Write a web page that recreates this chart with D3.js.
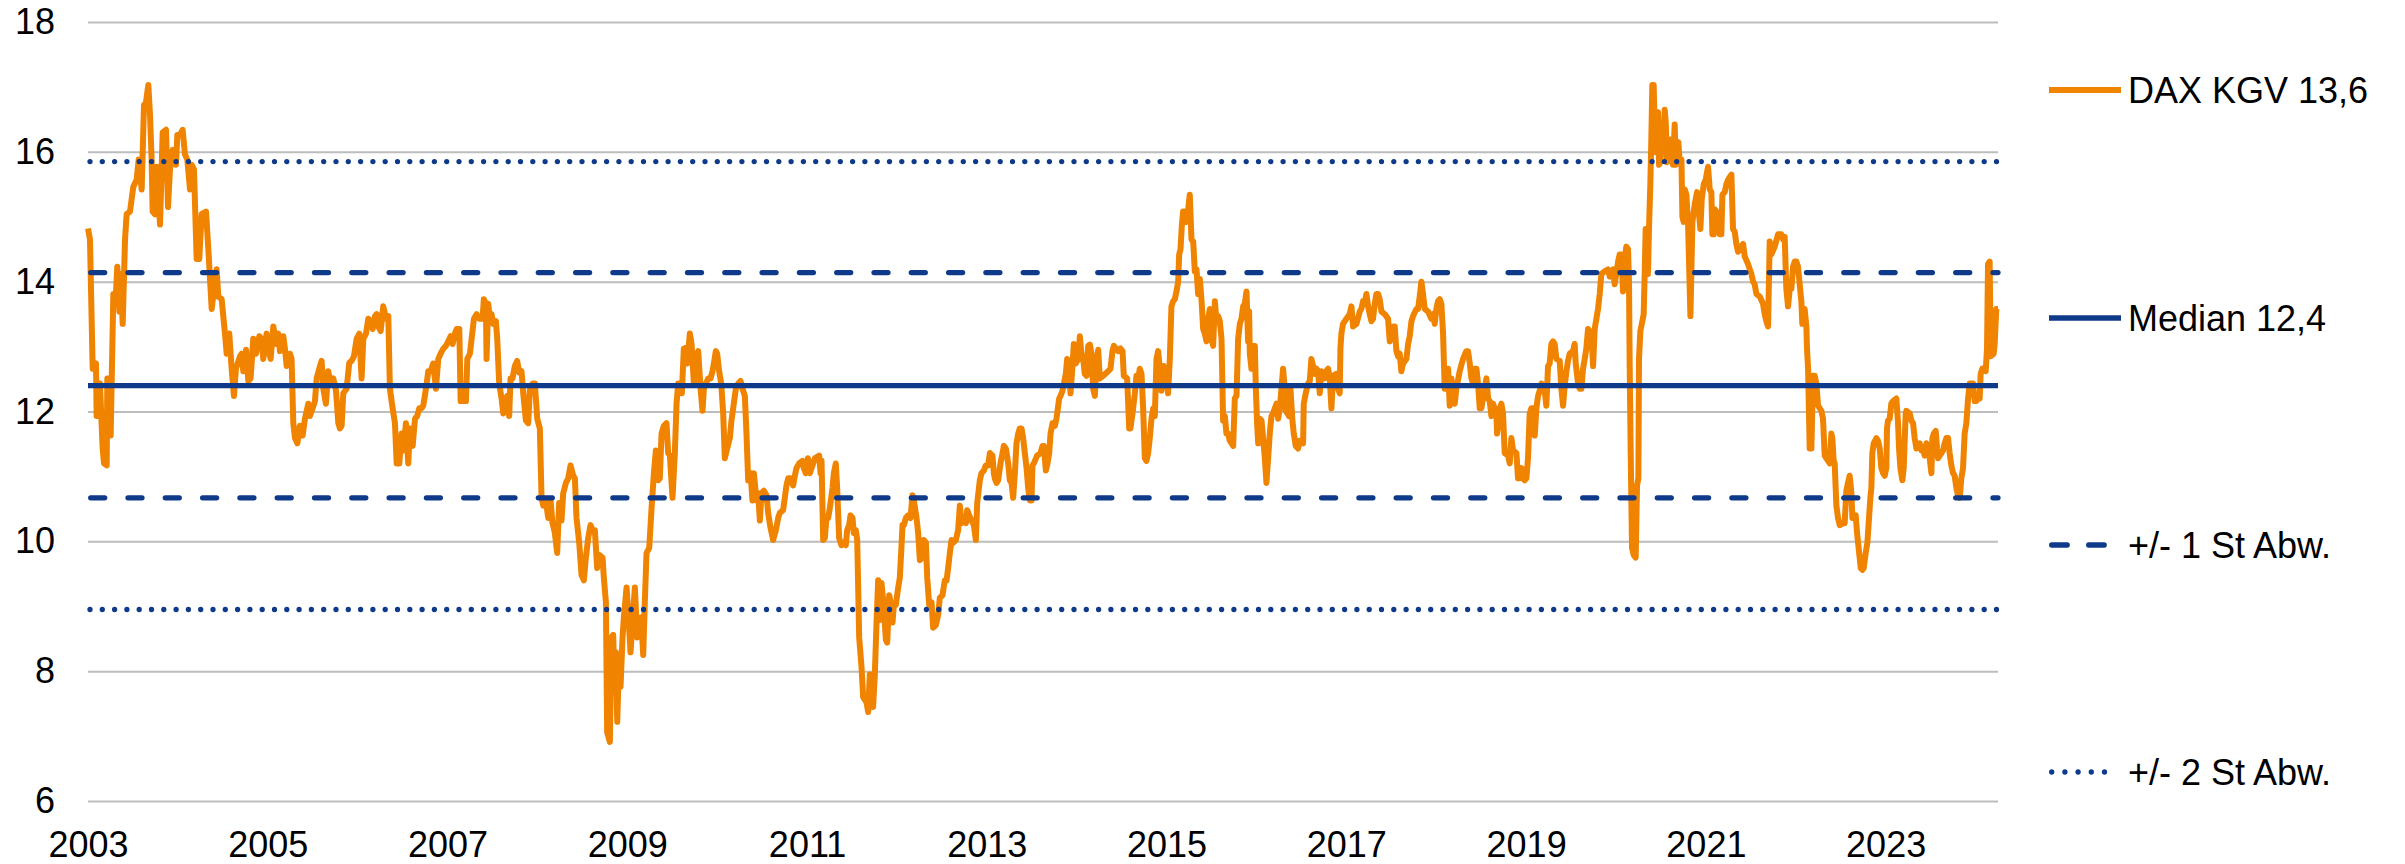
<!DOCTYPE html>
<html>
<head>
<meta charset="utf-8">
<script src="https://cdn.jsdelivr.net/npm/d3@7"></script>
<style>
  html, body { margin: 0; padding: 0; background: #fff; }
  svg { display: block; }
  text { font-family: "Liberation Sans", Arial, sans-serif; }
</style>
</head>
<body>
<svg id="chart" width="2405" height="864"></svg>
<script>
// ---------------- DATA ----------------
const yTicks = [6, 8, 10, 12, 14, 16, 18];
const xTicks = [2003, 2005, 2007, 2009, 2011, 2013, 2015, 2017, 2019, 2021, 2023];
const median = 12.4;
const sd1Levels = [14.14, 10.67];
const sd2Levels = [15.85, 8.95];
const legendLabels = ["DAX KGV 13,6", "Median 12,4", "+/- 1 St Abw.", "+/- 2 St Abw."];

// DAX KGV (P/E), [decimal year, value]
const daxKgv = [
[2003.000,14.82],[2003.022,14.65],[2003.052,12.66],[2003.089,12.74],[2003.096,11.93],[2003.115,11.93],[2003.133,12.43],[2003.163,11.43],[2003.178,11.20],[2003.208,11.17],
[2003.215,12.51],[2003.245,12.51],[2003.252,11.63],[2003.282,13.81],[2003.311,13.81],[2003.326,14.23],[2003.349,13.54],[2003.363,14.12],[2003.386,13.35],[2003.412,14.65],
[2003.430,15.04],[2003.467,15.08],[2003.504,15.46],[2003.541,15.57],[2003.564,15.88],[2003.597,15.42],[2003.623,16.72],[2003.645,16.76],[2003.671,17.03],[2003.690,16.57],
[2003.708,15.88],[2003.719,15.08],[2003.745,15.04],[2003.764,15.77],[2003.801,14.88],[2003.831,16.30],[2003.868,16.34],[2003.890,15.15],[2003.912,15.73],[2003.942,16.03],
[2003.979,15.80],[2003.994,16.26],[2004.023,16.26],[2004.053,16.34],[2004.079,15.96],[2004.105,15.88],[2004.135,15.42],[2004.153,15.80],[2004.179,15.73],[2004.209,14.35],
[2004.238,14.35],[2004.264,15.04],[2004.313,15.08],[2004.339,14.50],[2004.376,13.58],[2004.402,13.89],[2004.431,14.19],[2004.450,13.77],[2004.487,13.73],[2004.524,13.20],
[2004.543,12.89],[2004.572,13.20],[2004.598,12.66],[2004.624,12.24],[2004.646,12.66],[2004.691,12.85],[2004.709,12.89],[2004.728,12.62],[2004.758,12.95],[2004.784,12.47],
[2004.809,12.51],[2004.839,13.12],[2004.869,12.89],[2004.906,13.16],[2004.932,13.12],[2004.950,12.81],[2004.987,13.20],[2005.006,12.97],[2005.032,12.81],[2005.062,13.31],
[2005.091,13.04],[2005.117,13.20],[2005.136,12.93],[2005.173,13.16],[2005.191,12.97],[2005.210,12.70],[2005.247,12.89],[2005.265,12.81],[2005.284,11.82],[2005.303,11.59],
[2005.329,11.51],[2005.358,11.78],[2005.388,11.63],[2005.414,11.89],[2005.451,12.12],[2005.469,11.93],[2005.499,12.05],[2005.525,12.16],[2005.544,12.51],[2005.573,12.66],
[2005.599,12.78],[2005.618,12.35],[2005.647,12.12],[2005.673,12.62],[2005.699,12.43],[2005.729,12.51],[2005.759,12.32],[2005.785,11.82],[2005.803,11.74],[2005.822,11.78],
[2005.840,12.28],[2005.877,12.35],[2005.907,12.75],[2005.933,12.78],[2005.959,12.85],[2005.989,13.12],[2006.018,13.20],[2006.044,12.51],[2006.063,13.12],[2006.093,13.20],
[2006.118,13.43],[2006.144,13.39],[2006.167,13.27],[2006.193,13.47],[2006.211,13.50],[2006.230,13.31],[2006.256,13.24],[2006.285,13.62],[2006.315,13.43],[2006.341,13.47],
[2006.359,12.35],[2006.389,12.05],[2006.415,11.82],[2006.434,11.20],[2006.463,11.20],[2006.489,11.66],[2006.508,11.40],[2006.537,11.82],[2006.563,11.20],[2006.582,11.74],
[2006.612,11.47],[2006.638,11.89],[2006.663,11.93],[2006.686,12.05],[2006.712,12.05],[2006.730,12.09],[2006.760,12.35],[2006.786,12.62],[2006.812,12.62],[2006.841,12.74],
[2006.871,12.35],[2006.897,12.81],[2006.923,12.89],[2006.953,12.97],[2006.982,13.01],[2007.008,13.08],[2007.034,13.16],[2007.057,13.04],[2007.082,13.20],[2007.101,13.27],
[2007.131,13.27],[2007.146,12.16],[2007.175,12.16],[2007.205,12.16],[2007.220,12.81],[2007.249,12.89],[2007.268,13.12],[2007.294,13.43],[2007.323,13.50],[2007.353,13.43],
[2007.390,13.43],[2007.404,13.73],[2007.427,13.66],[2007.434,12.81],[2007.453,13.66],[2007.471,13.43],[2007.490,13.50],[2007.508,13.35],[2007.538,13.39],[2007.553,13.12],
[2007.575,12.43],[2007.601,12.20],[2007.620,11.97],[2007.649,12.01],[2007.664,12.24],[2007.686,11.93],[2007.701,12.51],[2007.723,12.51],[2007.749,12.70],[2007.775,12.78],
[2007.798,12.60],[2007.823,12.62],[2007.842,12.28],[2007.872,11.86],[2007.898,11.82],[2007.916,12.35],[2007.946,12.43],[2007.972,12.43],[2007.998,11.89],[2008.027,11.74],
[2008.046,10.67],[2008.065,10.55],[2008.094,10.63],[2008.120,10.36],[2008.146,10.63],[2008.168,10.28],[2008.194,10.13],[2008.220,9.82],[2008.242,10.59],[2008.268,10.32],
[2008.287,10.74],[2008.317,10.90],[2008.343,10.97],[2008.369,11.17],[2008.398,11.01],[2008.417,10.97],[2008.435,10.36],[2008.465,9.98],[2008.491,9.48],[2008.517,9.40],
[2008.539,9.75],[2008.565,10.05],[2008.591,10.25],[2008.613,10.17],[2008.639,10.17],[2008.665,9.59],[2008.687,9.79],[2008.725,9.75],[2008.739,9.44],[2008.762,9.06],
[2008.776,7.06],[2008.806,6.91],[2008.825,8.52],[2008.843,8.56],[2008.858,7.83],[2008.873,8.29],[2008.888,7.22],[2008.910,8.25],[2008.925,7.76],[2008.947,8.52],
[2008.962,8.83],[2008.992,9.29],[2009.014,8.83],[2009.036,8.29],[2009.058,8.75],[2009.084,9.29],[2009.110,8.52],[2009.132,8.60],[2009.155,8.83],[2009.177,8.25],
[2009.195,9.06],[2009.214,9.82],[2009.244,9.90],[2009.270,10.51],[2009.296,11.05],[2009.318,11.40],[2009.344,10.94],[2009.362,10.97],[2009.381,11.66],[2009.407,11.78],
[2009.436,11.82],[2009.455,11.36],[2009.474,11.32],[2009.503,10.67],[2009.529,11.36],[2009.548,12.12],[2009.566,12.43],[2009.585,12.43],[2009.607,12.28],[2009.629,12.97],
[2009.652,12.98],[2009.666,12.74],[2009.696,13.20],[2009.715,13.04],[2009.741,12.43],[2009.763,12.81],[2009.789,12.93],[2009.815,12.35],[2009.837,12.01],[2009.852,12.35],
[2009.874,12.43],[2009.900,12.51],[2009.926,12.51],[2009.948,12.62],[2009.963,12.74],[2009.985,12.93],[2010.000,12.89],[2010.022,12.62],[2010.045,12.43],[2010.067,11.97],
[2010.085,11.28],[2010.111,11.43],[2010.141,11.59],[2010.159,11.86],[2010.185,12.12],[2010.208,12.35],[2010.234,12.43],[2010.260,12.47],[2010.282,12.35],[2010.308,12.24],
[2010.326,11.66],[2010.345,10.94],[2010.371,11.05],[2010.393,10.63],[2010.408,11.05],[2010.438,10.63],[2010.456,10.74],[2010.475,10.32],[2010.493,10.74],[2010.519,10.78],
[2010.549,10.71],[2010.567,10.44],[2010.593,10.21],[2010.623,10.02],[2010.653,10.17],[2010.679,10.36],[2010.697,10.44],[2010.734,10.48],[2010.771,10.86],[2010.790,10.97],
[2010.816,10.97],[2010.845,10.86],[2010.864,11.01],[2010.883,11.13],[2010.912,11.20],[2010.949,11.24],[2010.964,11.13],[2010.986,11.05],[2011.009,11.28],[2011.031,11.05],
[2011.061,11.17],[2011.086,11.28],[2011.135,11.32],[2011.150,11.05],[2011.161,11.24],[2011.179,10.02],[2011.198,10.05],[2011.216,10.36],[2011.235,10.36],[2011.253,10.51],
[2011.283,10.82],[2011.298,11.05],[2011.320,11.20],[2011.335,10.82],[2011.357,10.05],[2011.383,9.94],[2011.402,9.98],[2011.431,9.94],[2011.446,10.17],[2011.468,10.25],
[2011.483,10.40],[2011.506,10.36],[2011.520,10.13],[2011.543,10.17],[2011.558,10.02],[2011.580,8.52],[2011.606,8.06],[2011.624,7.60],[2011.643,7.56],[2011.661,7.52],
[2011.680,7.37],[2011.698,7.95],[2011.717,7.52],[2011.735,7.45],[2011.754,7.95],[2011.772,8.71],[2011.791,9.40],[2011.809,8.79],[2011.828,9.36],[2011.854,8.98],
[2011.877,8.48],[2011.892,8.44],[2011.914,9.17],[2011.929,9.06],[2011.951,8.75],[2011.966,9.02],[2011.988,9.02],[2012.014,9.29],[2012.032,9.44],[2012.047,9.82],
[2012.062,10.25],[2012.077,10.25],[2012.099,10.36],[2012.125,10.40],[2012.151,10.36],[2012.173,10.71],[2012.188,10.63],[2012.218,10.36],[2012.236,10.13],[2012.255,9.71],
[2012.285,9.75],[2012.299,10.02],[2012.322,9.98],[2012.337,9.44],[2012.359,9.02],[2012.385,9.06],[2012.403,8.67],[2012.433,8.71],[2012.459,8.87],[2012.477,9.13],
[2012.507,9.17],[2012.533,9.40],[2012.552,9.40],[2012.570,9.59],[2012.589,9.82],[2012.607,10.02],[2012.626,9.98],[2012.655,10.02],[2012.681,10.17],[2012.700,10.55],
[2012.718,10.28],[2012.737,10.32],[2012.767,10.28],[2012.781,10.48],[2012.804,10.40],[2012.830,10.32],[2012.856,10.25],[2012.878,10.02],[2012.893,10.59],[2012.922,10.94],
[2012.941,11.05],[2012.967,11.09],[2012.989,11.17],[2013.015,11.17],[2013.034,11.36],[2013.063,11.32],[2013.078,11.05],[2013.089,10.97],[2013.108,10.90],[2013.126,10.94],
[2013.152,11.20],[2013.175,11.36],[2013.189,11.47],[2013.212,11.43],[2013.238,11.20],[2013.256,10.94],[2013.275,10.90],[2013.293,10.67],[2013.312,11.05],[2013.330,11.51],
[2013.349,11.66],[2013.367,11.74],[2013.386,11.74],[2013.404,11.59],[2013.423,11.36],[2013.442,11.13],[2013.460,10.82],[2013.479,10.63],[2013.497,10.63],[2013.508,11.17],
[2013.523,11.20],[2013.560,11.32],[2013.597,11.36],[2013.620,11.47],[2013.634,11.47],[2013.657,11.09],[2013.671,11.17],[2013.694,11.36],[2013.709,11.66],[2013.731,11.82],
[2013.757,11.78],[2013.775,11.89],[2013.805,12.20],[2013.820,12.24],[2013.842,12.32],[2013.857,12.43],[2013.879,12.58],[2013.894,12.81],[2013.916,12.66],[2013.931,12.28],
[2013.953,12.70],[2013.968,13.04],[2013.990,12.74],[2014.016,12.81],[2014.035,13.16],[2014.053,12.89],[2014.072,12.81],[2014.090,12.58],[2014.109,12.55],[2014.128,13.01],
[2014.146,13.03],[2014.165,12.89],[2014.183,12.35],[2014.202,12.24],[2014.220,12.74],[2014.239,12.95],[2014.257,12.51],[2014.294,12.55],[2014.350,12.62],[2014.376,12.66],
[2014.398,12.93],[2014.413,13.01],[2014.461,12.93],[2014.487,12.97],[2014.510,12.93],[2014.524,12.55],[2014.561,12.51],[2014.584,11.74],[2014.598,11.74],[2014.621,11.97],
[2014.647,12.28],[2014.665,12.55],[2014.684,12.51],[2014.702,12.66],[2014.721,12.58],[2014.739,12.05],[2014.758,11.28],[2014.776,11.24],[2014.795,11.36],[2014.813,11.59],
[2014.832,11.89],[2014.851,12.05],[2014.869,11.93],[2014.888,12.81],[2014.906,12.93],[2014.925,12.66],[2014.943,12.32],[2014.969,12.70],[2014.991,12.62],[2015.017,12.28],
[2015.036,12.81],[2015.054,13.62],[2015.073,13.70],[2015.092,13.73],[2015.110,13.85],[2015.129,14.00],[2015.140,14.42],[2015.155,14.50],[2015.169,14.85],[2015.184,15.08],
[2015.203,15.08],[2015.221,14.92],[2015.240,15.11],[2015.258,15.34],[2015.277,14.65],[2015.296,14.62],[2015.314,14.16],[2015.333,14.19],[2015.351,13.81],[2015.370,14.04],
[2015.388,13.73],[2015.407,13.27],[2015.425,13.20],[2015.444,13.08],[2015.462,13.43],[2015.481,13.58],[2015.500,13.12],[2015.518,13.01],[2015.537,13.70],[2015.555,13.39],
[2015.574,13.47],[2015.592,13.39],[2015.611,13.12],[2015.629,11.86],[2015.648,11.93],[2015.666,11.66],[2015.685,11.66],[2015.703,11.55],[2015.741,11.47],[2015.759,12.20],
[2015.778,12.24],[2015.796,13.12],[2015.815,13.35],[2015.833,13.43],[2015.852,13.62],[2015.870,13.66],[2015.889,13.85],[2015.907,13.08],[2015.918,13.54],[2015.926,12.89],
[2015.944,12.66],[2015.963,13.01],[2015.982,13.01],[2015.993,12.35],[2016.007,11.82],[2016.019,11.51],[2016.037,11.89],[2016.056,11.86],[2016.074,11.59],[2016.093,11.28],
[2016.111,10.90],[2016.130,11.28],[2016.148,11.66],[2016.167,11.93],[2016.185,11.97],[2016.204,12.05],[2016.223,12.12],[2016.241,11.89],[2016.260,12.05],[2016.278,12.35],
[2016.296,12.66],[2016.315,12.35],[2016.326,12.01],[2016.363,11.93],[2016.378,12.35],[2016.400,11.86],[2016.415,11.66],[2016.437,11.47],[2016.463,11.43],[2016.482,11.55],
[2016.519,11.51],[2016.526,12.12],[2016.548,12.28],[2016.574,12.43],[2016.593,12.47],[2016.611,12.81],[2016.630,12.70],[2016.648,12.58],[2016.667,12.66],[2016.685,12.62],
[2016.704,12.28],[2016.722,12.62],[2016.760,12.51],[2016.778,12.62],[2016.797,12.66],[2016.815,12.51],[2016.834,12.05],[2016.852,12.55],[2016.889,12.58],[2016.908,12.35],
[2016.926,12.28],[2016.934,12.97],[2016.945,13.20],[2016.963,13.35],[2017.001,13.43],[2017.038,13.50],[2017.056,13.62],[2017.075,13.31],[2017.112,13.35],[2017.149,13.54],
[2017.167,13.58],[2017.186,13.70],[2017.205,13.66],[2017.223,13.81],[2017.242,13.62],[2017.260,13.50],[2017.279,13.39],[2017.297,13.43],[2017.316,13.66],[2017.334,13.81],
[2017.353,13.81],[2017.371,13.73],[2017.390,13.54],[2017.427,13.50],[2017.464,13.43],[2017.483,13.08],[2017.520,13.31],[2017.538,13.31],[2017.557,12.93],[2017.575,12.85],
[2017.594,12.89],[2017.612,12.62],[2017.631,12.74],[2017.668,12.81],[2017.687,13.04],[2017.705,13.16],[2017.724,13.39],[2017.742,13.47],[2017.779,13.58],[2017.798,13.58],
[2017.816,13.77],[2017.835,14.00],[2017.853,13.81],[2017.872,13.58],[2017.909,13.54],[2017.946,13.43],[2017.965,13.50],[2017.983,13.35],[2018.002,13.58],[2018.020,13.70],
[2018.039,13.73],[2018.057,13.66],[2018.076,13.20],[2018.094,12.35],[2018.113,12.35],[2018.132,12.66],[2018.150,12.09],[2018.169,12.51],[2018.187,12.20],[2018.206,12.12],
[2018.224,12.35],[2018.261,12.62],[2018.298,12.81],[2018.335,12.93],[2018.354,12.93],[2018.373,12.74],[2018.391,12.51],[2018.410,12.43],[2018.428,12.66],[2018.447,12.66],
[2018.465,12.43],[2018.484,12.05],[2018.502,12.05],[2018.539,12.35],[2018.558,12.51],[2018.577,12.20],[2018.595,12.16],[2018.614,11.93],[2018.632,12.12],[2018.669,11.97],
[2018.677,11.66],[2018.688,11.78],[2018.706,12.05],[2018.725,12.12],[2018.743,11.97],[2018.762,11.36],[2018.799,11.32],[2018.818,11.20],[2018.836,11.59],[2018.855,11.40],
[2018.892,11.36],[2018.910,10.97],[2018.929,10.97],[2018.947,11.13],[2018.966,10.97],[2018.984,10.94],[2019.003,10.97],[2019.021,11.28],[2019.040,11.97],[2019.059,12.05],
[2019.077,12.05],[2019.096,11.63],[2019.114,12.05],[2019.133,12.24],[2019.151,12.32],[2019.170,12.43],[2019.207,12.32],[2019.225,12.09],[2019.244,12.70],[2019.262,12.74],
[2019.281,13.04],[2019.299,13.08],[2019.318,13.04],[2019.337,12.81],[2019.374,12.78],[2019.392,12.35],[2019.411,12.09],[2019.429,12.39],[2019.448,12.62],[2019.466,12.78],
[2019.485,12.89],[2019.522,12.93],[2019.540,13.04],[2019.552,12.74],[2019.578,12.43],[2019.596,12.35],[2019.615,12.35],[2019.633,12.66],[2019.652,12.81],[2019.670,12.97],
[2019.689,13.27],[2019.726,13.20],[2019.745,12.70],[2019.763,13.27],[2019.782,13.43],[2019.800,13.58],[2019.819,13.81],[2019.837,14.12],[2019.874,14.16],[2019.911,14.19],
[2019.930,14.08],[2019.967,14.19],[2019.985,13.96],[2020.004,14.12],[2020.023,14.31],[2020.041,14.42],[2020.060,14.42],[2020.078,13.85],[2020.097,14.35],[2020.115,14.54],
[2020.134,14.50],[2020.145,13.96],[2020.152,12.74],[2020.163,11.43],[2020.178,9.90],[2020.197,9.79],[2020.219,9.75],[2020.234,10.86],[2020.249,10.97],[2020.256,12.81],
[2020.271,13.24],[2020.293,13.39],[2020.308,13.50],[2020.319,14.12],[2020.330,14.81],[2020.345,14.81],[2020.356,14.12],[2020.367,14.81],[2020.382,15.50],[2020.393,16.19],
[2020.404,17.03],[2020.419,17.03],[2020.434,16.19],[2020.449,15.99],[2020.467,16.61],[2020.479,15.80],[2020.493,15.84],[2020.508,16.19],[2020.523,16.07],[2020.542,16.65],
[2020.553,16.46],[2020.568,15.84],[2020.590,15.88],[2020.605,16.19],[2020.620,15.88],[2020.634,15.80],[2020.653,16.42],[2020.664,15.80],[2020.679,16.03],[2020.694,16.15],
[2020.709,15.84],[2020.728,15.88],[2020.739,15.00],[2020.753,14.92],[2020.765,15.42],[2020.783,15.34],[2020.802,14.88],[2020.828,13.47],[2020.850,14.92],[2020.876,15.19],
[2020.902,15.38],[2020.924,15.04],[2020.939,14.81],[2020.954,15.27],[2020.976,15.50],[2020.998,15.57],[2021.024,15.77],[2021.043,15.42],[2021.061,15.38],[2021.072,14.73],
[2021.087,14.73],[2021.102,15.11],[2021.117,15.08],[2021.135,14.96],[2021.154,14.73],[2021.172,14.73],[2021.184,15.34],[2021.210,15.38],[2021.228,15.50],[2021.247,15.57],
[2021.265,15.61],[2021.284,15.65],[2021.302,14.81],[2021.321,14.77],[2021.339,14.58],[2021.358,14.46],[2021.395,14.54],[2021.414,14.58],[2021.432,14.39],[2021.469,14.27],
[2021.506,14.12],[2021.525,14.00],[2021.543,13.96],[2021.562,13.81],[2021.599,13.77],[2021.636,13.66],[2021.654,13.50],[2021.673,13.39],[2021.692,13.31],[2021.710,14.62],
[2021.729,14.42],[2021.766,14.54],[2021.803,14.73],[2021.840,14.73],[2021.858,14.65],[2021.877,14.69],[2021.895,13.89],[2021.914,13.62],[2021.933,13.89],[2021.951,13.89],
[2021.970,14.23],[2021.988,14.31],[2022.007,14.31],[2022.025,14.23],[2022.044,13.96],[2022.062,13.70],[2022.073,13.35],[2022.088,13.39],[2022.099,13.58],[2022.118,13.31],
[2022.125,12.97],[2022.137,12.66],[2022.155,11.43],[2022.174,11.43],[2022.192,12.55],[2022.211,12.55],[2022.229,12.43],[2022.248,12.09],[2022.285,12.01],[2022.303,11.89],
[2022.322,11.32],[2022.378,11.20],[2022.396,11.66],[2022.407,11.59],[2022.422,11.24],[2022.433,11.20],[2022.452,10.55],[2022.470,10.36],[2022.489,10.25],[2022.526,10.28],
[2022.544,10.28],[2022.563,10.78],[2022.581,10.90],[2022.600,11.01],[2022.619,10.74],[2022.630,10.36],[2022.667,10.40],[2022.682,10.13],[2022.693,9.98],[2022.711,9.75],
[2022.722,9.59],[2022.741,9.56],[2022.756,9.59],[2022.778,9.82],[2022.797,9.98],[2022.815,10.36],[2022.830,10.67],[2022.841,10.82],[2022.852,11.36],[2022.867,11.51],
[2022.897,11.59],[2022.915,11.55],[2022.934,11.43],[2022.952,11.13],[2022.971,11.05],[2022.989,11.01],[2023.008,11.13],[2023.015,11.74],[2023.026,11.86],[2023.045,11.89],
[2023.063,12.12],[2023.082,12.16],[2023.119,12.20],[2023.138,11.82],[2023.149,11.43],[2023.164,11.13],[2023.186,10.94],[2023.201,11.13],[2023.223,11.97],[2023.230,12.01],
[2023.268,11.97],[2023.286,11.86],[2023.305,11.82],[2023.323,11.59],[2023.342,11.43],[2023.379,11.51],[2023.397,11.40],[2023.416,11.43],[2023.434,11.32],[2023.453,11.51],
[2023.471,11.40],[2023.490,11.28],[2023.509,11.05],[2023.520,11.59],[2023.535,11.66],[2023.557,11.70],[2023.572,11.43],[2023.583,11.28],[2023.620,11.36],[2023.638,11.40],
[2023.657,11.51],[2023.675,11.59],[2023.694,11.59],[2023.712,11.36],[2023.731,11.17],[2023.750,11.05],[2023.768,11.01],[2023.787,10.82],[2023.805,10.71],[2023.824,10.67],
[2023.842,10.97],[2023.861,11.13],[2023.879,11.66],[2023.898,11.82],[2023.917,12.20],[2023.935,12.43],[2023.972,12.43],[2023.991,12.16],[2024.009,12.16],[2024.028,12.24],
[2024.046,12.20],[2024.057,12.58],[2024.076,12.66],[2024.113,12.62],[2024.128,12.97],[2024.139,14.27],[2024.157,14.31],[2024.169,12.85],[2024.202,12.89],[2024.213,13.04],
[2024.231,13.58],[2024.250,13.58]
];

// ---------------- CHART ----------------
(function () {
const svg = d3.select("#chart");
const pL = 88, pR = 1998, pT = 22, pB = 801;
const ORANGE = "#F08300";
const NAVY = "#0F3A8A";
const GRID = "#BDBDBD";
const FONT = 36;
const REFW = 5.3;

const x = d3.scaleLinear().domain([2003, 2024.25]).range([pL, pR]);
const y = d3.scaleLinear().domain([6, 18]).range([pB, pT]);

// Y axis with gridlines
const yAxis = svg.append("g")
  .attr("transform", `translate(${pL},0)`)
  .call(d3.axisLeft(y).tickValues(yTicks).tickFormat(d3.format("d"))
        .tickSize(-(pR - pL)).tickPadding(33));
yAxis.select(".domain").remove();
yAxis.selectAll(".tick line").attr("stroke", GRID).attr("stroke-width", 2);
yAxis.selectAll(".tick text").attr("fill", "#000").style("font-size", FONT + "px")
  .style("font-family", '"Liberation Sans", Arial, sans-serif');

// X axis labels
const xAxis = svg.append("g")
  .attr("transform", `translate(0,${pB})`)
  .call(d3.axisBottom(x).tickValues(xTicks).tickFormat(d3.format("d"))
        .tickSize(0).tickPadding(30));
xAxis.select(".domain").remove();
xAxis.selectAll(".tick text").attr("fill", "#000").style("font-size", FONT + "px")
  .style("font-family", '"Liberation Sans", Arial, sans-serif');

// DAX KGV line
const line = d3.line().x(d => x(d[0])).y(d => y(d[1]));
svg.append("path")
  .datum(daxKgv)
  .attr("d", line)
  .attr("fill", "none")
  .attr("stroke", ORANGE)
  .attr("stroke-width", 6)
  .attr("stroke-linejoin", "round");

// Reference lines (drawn on top)
const DASH = "14 23.3";
const DOT = "0 12.3";
function refLine(v, dash, startOff) {
  svg.append("line")
    .attr("x1", x(2003) + startOff).attr("x2", pR)
    .attr("y1", y(v)).attr("y2", y(v))
    .attr("stroke", NAVY)
    .attr("stroke-width", REFW)
    .attr("stroke-linecap", dash ? "round" : "butt")
    .attr("stroke-dasharray", dash || null);
}
sd2Levels.forEach(v => refLine(v, DOT, 2));
sd1Levels.forEach(v => refLine(v, DASH, 2.7));
refLine(median, null, 0);

// Legend
const legX1 = 2049, legX2 = 2121, legText = 2128;
const legY = [90, 318, 545, 772];
const legStyles = [
  {stroke: ORANGE, w: 6, dash: null, cap: "butt", x2: legX2},
  {stroke: NAVY, w: REFW, dash: null, cap: "butt", x2: legX2},
  {stroke: NAVY, w: REFW, dash: "15.5 21.5", cap: "round", x2: 2105},
  {stroke: NAVY, w: REFW, dash: "0 13.2", cap: "round", x2: 2117}
];
legendLabels.forEach((lab, i) => {
  const s = legStyles[i];
  svg.append("line")
    .attr("x1", legX1 + (s.cap === "round" ? 2.7 : 0)).attr("x2", s.x2)
    .attr("y1", legY[i]).attr("y2", legY[i])
    .attr("stroke", s.stroke).attr("stroke-width", s.w)
    .attr("stroke-linecap", s.cap)
    .attr("stroke-dasharray", s.dash);
  svg.append("text")
    .attr("x", legText).attr("y", legY[i]).attr("dy", "0.36em")
    .attr("fill", "#000")
    .style("font-size", FONT + "px")
    .text(lab);
});
})();
</script>
</body>
</html>
